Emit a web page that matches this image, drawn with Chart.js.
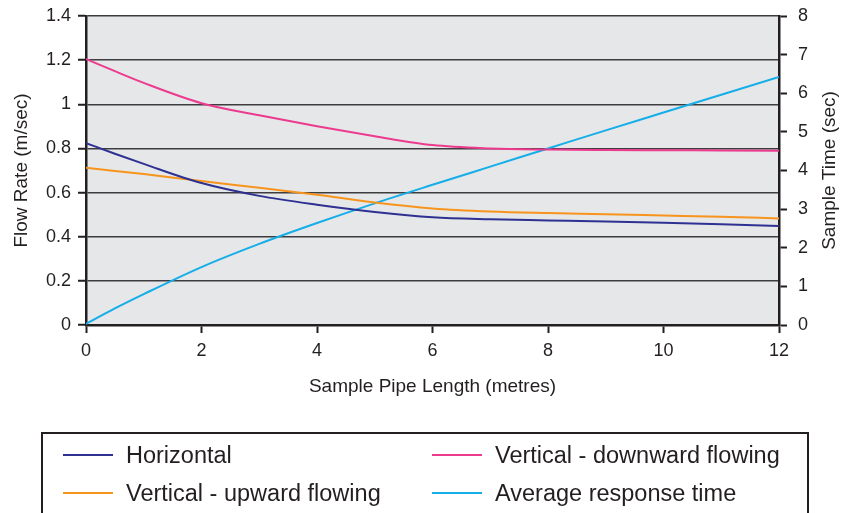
<!DOCTYPE html>
<html>
<head>
<meta charset="utf-8">
<script src="https://cdn.jsdelivr.net/npm/chart.js@4"></script>
<style>
  html, body { margin: 0; padding: 0; background: #fff; }
  #wrap { position: relative; width: 854px; height: 513px; overflow: hidden; }
  #chart { position: absolute; left: 0; top: 0; }
  #legend { position: absolute; left: 41px; top: 432px; width: 768px; height: 120px;
            border: 2px solid #231f20; box-sizing: border-box; font-family: "Liberation Sans", Arial, sans-serif; }
  .item { position: absolute; height: 30px; display: flex; align-items: center; white-space: nowrap;
          font-size: 23.5px; color: #231f20; }
  .swatch { width: 50px; height: 2px; margin-right: 13px; }
</style>
</head>
<body>
<div id="wrap">
  <canvas id="chart" width="854" height="513"></canvas>
  <div id="legend"></div>
</div>
<script>
// ---- data ----
const pipeLength = [0, 0.5, 1, 2, 3, 4, 5, 6, 7, 8, 9, 10, 11, 12];
const horizontal = [0.824, 0.776, 0.73, 0.643, 0.585, 0.545, 0.512, 0.488, 0.479, 0.474, 0.469, 0.463, 0.456, 0.449];
const upwardFlowing = [0.712, 0.698, 0.684, 0.652, 0.622, 0.59, 0.555, 0.528, 0.514, 0.507, 0.502, 0.496, 0.49, 0.483];
const downwardFlowing = [1.205, 1.15, 1.097, 1.005, 0.95, 0.9, 0.855, 0.815, 0.8, 0.795, 0.793, 0.792, 0.791, 0.79];
const responseTime = [0.03, 0.43, 0.8, 1.5, 2.1, 2.64, 3.15, 3.63, 4.1, 4.57, 5.04, 5.5, 5.96, 6.42];

const seriesNames = ['Horizontal', 'Vertical - downward flowing', 'Vertical - upward flowing', 'Average response time'];
const seriesColors = ['#2e3192', '#ec3b8f', '#f7941d', '#15aee8'];

const flowTickLabels = ['0', '0.2', '0.4', '0.6', '0.8', '1', '1.2', '1.4'];
const timeTickLabels = ['0', '1', '2', '3', '4', '5', '6', '7', '8'];
const lengthTickLabels = ['0', '2', '4', '6', '8', '10', '12'];

const xTitle = 'Sample Pipe Length (metres)';
const leftTitle = 'Flow Rate (m/sec)';
const rightTitle = 'Sample Time (sec)';

const FONT = '"Liberation Sans", Arial, sans-serif';
const TEXT = '#231f20';

const toPoints = vals => pipeLength.map((x, i) => ({ x: x, y: vals[i] }));

const datasets = [
  { label: seriesNames[0], data: toPoints(horizontal), borderColor: seriesColors[0], yAxisID: 'y' },
  { label: seriesNames[1], data: toPoints(downwardFlowing), borderColor: seriesColors[1], yAxisID: 'y' },
  { label: seriesNames[2], data: toPoints(upwardFlowing), borderColor: seriesColors[2], yAxisID: 'y' },
  { label: seriesNames[3], data: toPoints(responseTime), borderColor: seriesColors[3], yAxisID: 'y1' }
].map(d => Object.assign(d, { borderWidth: 2, pointRadius: 0, fill: false, cubicInterpolationMode: 'monotone' }));

const bgPlugin = {
  id: 'plotBg',
  beforeDraw(chart) {
    const { ctx, chartArea: a } = chart;
    ctx.save();
    ctx.fillStyle = '#e6e7e8';
    ctx.fillRect(a.left, a.top, a.right - a.left, a.bottom - a.top);
    ctx.restore();
  }
};

const rightTitlePlugin = {
  id: 'rightTitle',
  afterDraw(chart) {
    const { ctx, chartArea: a } = chart;
    ctx.save();
    ctx.translate(830, (a.top + a.bottom) / 2);
    ctx.rotate(-Math.PI / 2);
    ctx.font = '19px ' + FONT;
    ctx.fillStyle = TEXT;
    ctx.textAlign = 'center';
    ctx.textBaseline = 'middle';
    ctx.fillText(rightTitle, 0, 0);
    ctx.restore();
  }
};

const fitVertical = w => s => { s.width = w; s.paddingTop = 0; s.paddingBottom = 0; };

new Chart(document.getElementById('chart'), {
  type: 'line',
  data: { datasets },
  plugins: [bgPlugin, rightTitlePlugin],
  options: {
    responsive: false,
    animation: false,
    devicePixelRatio: 1,
    layout: { padding: { top: 16, bottom: 115, left: 0, right: 0 } },
    plugins: { legend: { display: false }, tooltip: { enabled: false } },
    scales: {
      x: {
        type: 'linear', position: 'bottom', min: 0, max: 12,
        afterFit(s) { s.height = 73; s.paddingLeft = 0; s.paddingRight = 0; },
        ticks: { stepSize: 2, padding: 7, color: TEXT, font: { family: FONT, size: 18 },
                 callback: (v, i) => lengthTickLabels[i] },
        grid: { drawOnChartArea: false, tickLength: 8, tickColor: '#231f20', tickWidth: 2 },
        border: { color: '#231f20', width: 2.5 },
        title: { display: true, text: xTitle, color: TEXT, font: { family: FONT, size: 19 }, padding: { top: 0, bottom: 0 } }
      },
      y: {
        position: 'left', min: 0, max: 1.4,
        afterFit: fitVertical(86),
        ticks: { stepSize: 0.2, padding: 7, color: TEXT, font: { family: FONT, size: 18 },
                 callback: (v, i) => flowTickLabels[i] },
        grid: { color: '#3d3d3f', lineWidth: 1.5, tickLength: 8, tickColor: '#231f20', tickWidth: 2 },
        border: { color: '#231f20', width: 2.5 },
        title: { display: true, text: leftTitle, color: TEXT, font: { family: FONT, size: 19 }, padding: { top: 10, bottom: 0 } }
      },
      y1: {
        position: 'right', min: 0, max: 8,
        afterFit: fitVertical(75),
        ticks: { stepSize: 1, padding: 11, color: TEXT, font: { family: FONT, size: 18 },
                 callback: (v, i) => timeTickLabels[i] },
        grid: { drawOnChartArea: false, tickLength: 8, tickColor: '#231f20', tickWidth: 2 },
        border: { color: '#231f20', width: 2.5 }
      }
    }
  }
});

// ---- legend (two columns, rows as in reference) ----
const legendOrder = [0, 1, 2, 3];
const legendPos = [[20, 6], [389, 6], [20, 44], [389, 44]];
const legend = document.getElementById('legend');
legendOrder.forEach((si, k) => {
  const it = document.createElement('div');
  it.className = 'item';
  it.style.left = legendPos[k][0] + 'px';
  it.style.top = legendPos[k][1] + 'px';
  const sw = document.createElement('span');
  sw.className = 'swatch';
  sw.style.background = seriesColors[si];
  const tx = document.createElement('span');
  tx.textContent = seriesNames[si];
  it.appendChild(sw); it.appendChild(tx);
  legend.appendChild(it);
});
</script>
</body>
</html>
